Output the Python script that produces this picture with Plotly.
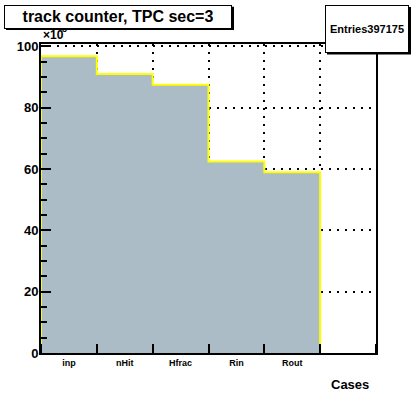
import plotly.graph_objects as go

# ---- data ----
categories = ["inp", "nHit", "Hfrac", "Rin", "Rout", ""]
counts_k = [96.8, 91.0, 87.5, 62.5, 59.0, 0.0]   # in units of 10^3
entries = 397175
title_text = "track counter, TPC sec=3"
x_title = "Cases"
y_ticks = [0, 20, 40, 60, 80, 100]
y_exponent = "3"

W, H = 413, 394
L, R, T, B = 41, 37, 44, 41
PW, PH = W - L - R, H - T - B

def px(x):
    return (x - L) / PW

def py(y):
    return (H - B - y) / PH

FONT = "Liberation Sans"
FILL = "#acbcc6"

nb = len(categories)
edges = list(range(nb))
step_x = [edges[0]] + edges
step_y = [0.0] + counts_k

fig = go.Figure()
fig.add_trace(go.Scatter(
    x=step_x, y=step_y, mode="lines", line_shape="hv",
    line=dict(color="#ffff00", width=2),
    fill="tozeroy", fillcolor=FILL, hoverinfo="skip", showlegend=False,
))

centers = [i + 0.5 for i in range(nb)]

fig.update_layout(
    width=W, height=H,
    margin=dict(l=L, r=R, t=T, b=B, pad=0),
    paper_bgcolor="white", plot_bgcolor="white",
    showlegend=False,
    xaxis=dict(
        range=[0, nb], tickvals=centers, ticktext=categories,
        ticks="", showgrid=False, zeroline=False,
        showline=True, linecolor="black", linewidth=2, mirror=True,
        tickfont=dict(family=FONT, size=9, color="black", weight="bold"),
        minor=dict(dtick=1, tick0=0, ticks="inside", ticklen=9, tickwidth=2,
                   tickcolor="black", showgrid=True, gridcolor="black",
                   griddash="2px,6px", gridwidth=2),
    ),
    yaxis=dict(
        range=[0, 100.8], tickvals=y_ticks, ticktext=[str(v) for v in y_ticks],
        ticks="inside", ticklen=10, tickwidth=2, tickcolor="black",
        showgrid=True, gridcolor="black", griddash="2px,6px", gridwidth=2,
        zeroline=False, ticklabelstandoff=-2,
        showline=True, linecolor="black", linewidth=2, mirror=True,
        tickfont=dict(family=FONT, size=13, color="black", weight="bold"),
        minor=dict(dtick=5, tick0=0, ticks="inside", ticklen=6, tickwidth=2,
                   tickcolor="black", showgrid=False),
    ),
)

shapes = []
# shadows for title and stats boxes
shapes.append(dict(type="rect", xref="paper", yref="paper",
                   x0=px(6), x1=px(234), y0=py(30), y1=py(6.7),
                   fillcolor="black", line=dict(width=0), layer="above"))
shapes.append(dict(type="rect", xref="paper", yref="paper",
                   x0=px(327), x1=px(411), y0=py(54.5), y1=py(7),
                   fillcolor="black", line=dict(width=0), layer="above"))
fig.update_layout(shapes=shapes)

ann = []
ann.append(dict(text="×10", xref="paper", yref="paper",
                x=px(41), y=py(35.5), xanchor="left", yanchor="middle",
                showarrow=False,
                font=dict(family=FONT, size=12, color="black", weight="bold")))
ann.append(dict(text=y_exponent, xref="paper", yref="paper",
                x=px(60), y=py(28.5), xanchor="left", yanchor="middle",
                showarrow=False,
                font=dict(family=FONT, size=9, color="black", weight="bold")))
ann.append(dict(text=title_text, xref="paper", yref="paper",
                x=px(4), y=py(4.7), xanchor="left", yanchor="top",
                width=224, height=19.5, align="center", valign="middle",
                bgcolor="white", bordercolor="black", borderwidth=1, borderpad=1,
                showarrow=False,
                font=dict(family=FONT, size=16, color="black", weight="bold")))
ann.append(dict(text=f"Entries{entries}", xref="paper", yref="paper",
                x=px(325), y=py(5), xanchor="left", yanchor="top",
                width=80, height=43.5, align="center", valign="middle",
                bgcolor="white", bordercolor="black", borderwidth=1, borderpad=1,
                showarrow=False,
                font=dict(family=FONT, size=11, color="black", weight="bold")))
ann.append(dict(text=x_title, xref="paper", yref="paper",
                x=px(371), y=py(384), xanchor="right", yanchor="middle",
                showarrow=False,
                font=dict(family=FONT, size=13, color="black", weight="bold")))
fig.update_layout(annotations=ann)

fig.write_html("out.html", config={"displayModeBar": False},
               post_script="document.body.style.margin='0px';")
